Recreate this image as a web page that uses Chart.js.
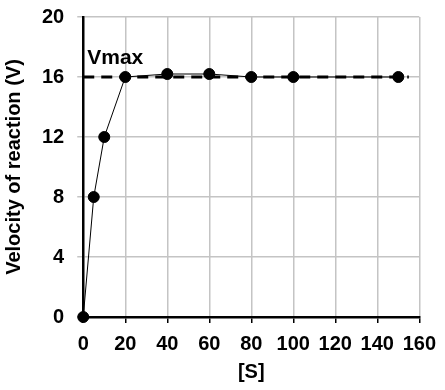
<!DOCTYPE html>
<html>
<head>
<meta charset="utf-8">
<script src="https://cdn.jsdelivr.net/npm/chart.js@4/dist/chart.umd.min.js"></script>
<style>
  html, body { margin: 0; padding: 0; background: #fff; }
  #wrap { width: 445px; height: 390px; }
</style>
</head>
<body>
<div id="wrap"><canvas id="grafico" width="445" height="390"></canvas></div>
<script>
// dados
const substrato = [0, 5, 10, 20, 40, 60, 80, 100, 150];
const velocidade = [0, 8, 12, 16, 16.2, 16.2, 16, 16, 16];
const vmaxLinhaX = [0, 155];
const vmaxValor = 16;
const vmaxTexto = 'Vmax';

const familia = "'Liberation Sans', Arial, sans-serif";
const fonteTicks = { family: familia, size: 20, weight: 'bold' };
const fonteTitulo = { family: familia, size: 20, weight: 'bold' };

// escreve "Vmax" acima da linha tracejada
const rotuloVmax = {
    id: 'rotuloVmax',
    afterDatasetsDraw(chart) {
        const ctx = chart.ctx;
        const x = chart.scales.x.getPixelForValue(0) + 4;
        const y = chart.scales.y.getPixelForValue(vmaxValor) - 8;
        ctx.save();
        ctx.font = "bold 21px 'Liberation Sans', Arial, sans-serif";
        ctx.fillStyle = '#000';
        ctx.textBaseline = 'bottom';
        ctx.fillText(vmaxTexto, x, y);
        ctx.restore();
    }
};

const dataGrafico = {
    datasets: [
        {
            label: 'V',
            data: substrato.map((s, i) => ({ x: s, y: velocidade[i] })),
            borderColor: '#000',
            backgroundColor: '#000',
            borderWidth: 1,
            pointRadius: 5.5,
            pointHoverRadius: 5.5,
            tension: 0,
            clip: false,
            order: 1
        },
        {
            label: 'Vmax',
            data: vmaxLinhaX.map(s => ({ x: s, y: vmaxValor })),
            borderColor: '#000',
            borderWidth: 3,
            borderDash: [11, 7],
            pointRadius: 0,
            order: 2
        }
    ]
};

const configGrafico = {
    type: 'line',
    data: dataGrafico,
    options: {
        responsive: false,
        animation: false,
        layout: { padding: { top: 0, right: 22, bottom: 6, left: 2 } },
        plugins: {
            legend: { display: false },
            tooltip: { enabled: false }
        },
        scales: {
            x: {
                type: 'linear',
                min: 0,
                max: 160,
                ticks: { stepSize: 20, color: '#000', font: fonteTicks, padding: 9 },
                grid: { color: '#c4c4c4', lineWidth: 1.5, tickColor: '#000', tickLength: 6 },
                border: { color: '#000', width: 2.5 },
                title: { display: true, text: '[S]', color: '#000', font: fonteTitulo, padding: { top: -5, bottom: 0 } }
            },
            y: {
                min: 0,
                max: 20,
                afterFit(scale) { scale.paddingTop = 17; },
                ticks: { stepSize: 4, color: '#000', font: fonteTicks, padding: 13 },
                grid: { color: '#c4c4c4', lineWidth: 1.5, tickColor: '#c4c4c4', tickLength: 6 },
                border: { color: '#000', width: 2.5 },
                title: { display: true, text: 'Velocity of reaction (V)', color: '#000', font: fonteTitulo, padding: { top: 0, bottom: 3 } }
            }
        }
    },
    plugins: [rotuloVmax]
};

new Chart(document.getElementById('grafico'), configGrafico);
</script>
</body>
</html>
